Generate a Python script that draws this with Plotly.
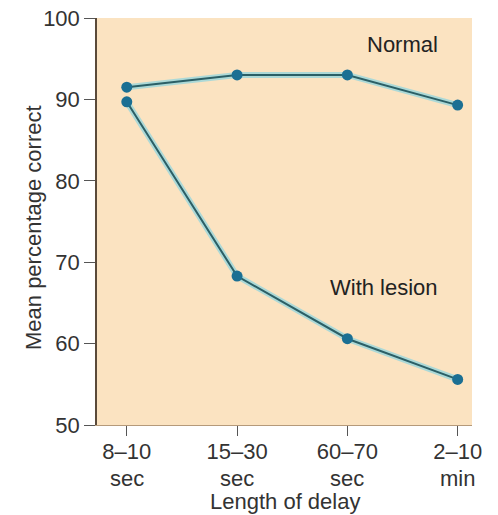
import plotly.graph_objects as go

categories = ["8–10<br>sec", "15–30<br>sec", "60–70<br>sec", "2–10<br>min"]
normal = [91.5, 93.0, 93.0, 89.3]
lesion = [89.7, 68.3, 60.6, 55.6]
y_ticks = [50, 60, 70, 80, 90, 100]

x = list(range(len(categories)))
first_lines = [c.split("<br>")[0] for c in categories]
second_lines = [c.split("<br>")[1] for c in categories]
FS = 22

fig = go.Figure()
for ys in (normal, lesion):
    fig.add_trace(go.Scatter(x=x, y=ys, mode="lines",
                             line=dict(color="rgba(120,210,230,0.6)", width=6),
                             hoverinfo="skip", showlegend=False))
    fig.add_trace(go.Scatter(x=x, y=ys, mode="lines+markers",
                             line=dict(color="#2b5f66", width=2),
                             marker=dict(color="#1b6f93", size=11),
                             showlegend=False))

fig.add_annotation(x=2.5, y=96.7, text="Normal", showarrow=False,
                   font=dict(size=FS, color="#222"))
fig.add_annotation(x=2.33, y=66.9, text="With lesion", showarrow=False,
                   font=dict(size=FS, color="#222"))
for xi, t in zip(x, second_lines):
    fig.add_annotation(x=xi, y=0, yref="paper", yanchor="middle", yshift=-53,
                       text=t, showarrow=False, font=dict(size=FS, color="#333"))
fig.add_annotation(x=0.5, y=0, xref="paper", yref="paper", yanchor="middle",
                   yshift=-76, text="Length of delay", showarrow=False,
                   font=dict(size=FS, color="#333"))
fig.add_annotation(x=0, y=0.484, xref="paper", yref="paper", xanchor="center",
                   xshift=-64, textangle=-90, text="Mean percentage correct",
                   showarrow=False, font=dict(size=FS, color="#333"))

fig.update_layout(
    width=498, height=515,
    margin=dict(l=97, r=26, t=18, b=90),
    paper_bgcolor="white",
    plot_bgcolor="#fbe3c1",
    font=dict(family="Liberation Sans, Arial, sans-serif", size=FS, color="#333"),
    xaxis=dict(range=[-0.27, 3.13], tickmode="array", tickvals=x, ticktext=first_lines,
               showgrid=False, zeroline=False, showline=True, linecolor="#b59a7a",
               linewidth=1, ticks="outside", ticklen=10, tickcolor="#555",
               ticklabelstandoff=-3,
               tickfont=dict(size=FS), automargin=False),
    yaxis=dict(range=[50, 100], tickvals=y_ticks,
               showgrid=False, zeroline=False, showline=True, linecolor="#5a4a3a",
               linewidth=1.5, ticks="outside", ticklen=11, tickcolor="#555",
               tickfont=dict(size=FS), automargin=False),
)

fig.write_html("out.html", config={"displayModeBar": False},
               post_script="document.body.style.margin='0';document.body.style.overflow='hidden';")
